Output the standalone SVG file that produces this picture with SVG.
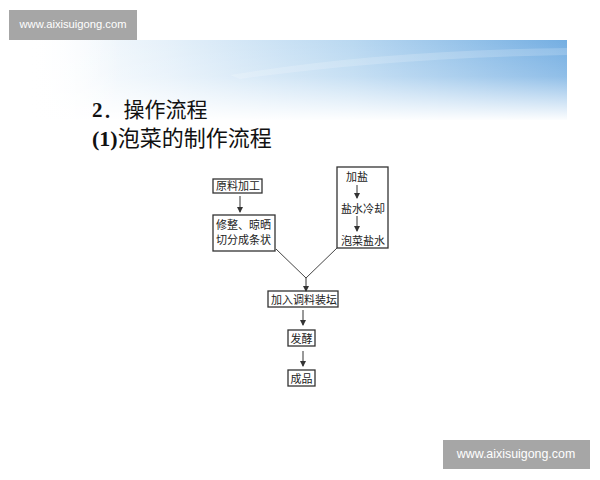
<svg xmlns="http://www.w3.org/2000/svg" width="600" height="480" viewBox="0 0 600 480">
<defs>
<linearGradient id="bh" x1="0" y1="0" x2="1" y2="0">
<stop offset="0" stop-color="#ffffff"/>
<stop offset="0.25" stop-color="#e6f1fa"/>
<stop offset="0.6" stop-color="#b9d8f1"/>
<stop offset="1" stop-color="#74aee2"/>
</linearGradient>
<linearGradient id="bv" x1="0" y1="0" x2="0" y2="1">
<stop offset="0" stop-color="#ffffff" stop-opacity="0"/>
<stop offset="0.45" stop-color="#ffffff" stop-opacity="0.2"/>
<stop offset="1" stop-color="#ffffff" stop-opacity="1"/>
</linearGradient>
<linearGradient id="bl" x1="0" y1="0" x2="1" y2="0">
<stop offset="0" stop-color="#ffffff" stop-opacity="1"/>
<stop offset="1" stop-color="#ffffff" stop-opacity="0"/>
</linearGradient>
<marker id="ah" viewBox="0 0 6 8" refX="5" refY="4" markerWidth="6" markerHeight="8" markerUnits="userSpaceOnUse" orient="auto">
<path d="M0,1 L6,4 L0,7 Z" fill="#333"/>
</marker>
<style>
.box{fill:#ffffff;stroke:#333;stroke-width:1.3}
.t{font-family:"Liberation Serif","Noto Sans CJK SC",serif;font-size:11px;fill:#222}
.ttl{font-family:"Liberation Serif","Noto Sans CJK SC",serif;fill:#111}
.wm{font-family:"Liberation Sans",Arial,sans-serif;fill:#ffffff}
.ln{stroke:#444;stroke-width:1;fill:none}
.ar{stroke:#333;stroke-width:1;fill:none;marker-end:url(#ah)}
</style>
</defs>
<rect width="600" height="480" fill="#ffffff"/>
<g id="banner">
<rect x="30" y="40" width="537" height="80" fill="url(#bh)"/>
<path d="M230,75 Q380,50 567,48 L567,55 Q390,58 240,79 Z" fill="#ffffff" opacity="0.18"/>
<rect x="30" y="40" width="537" height="81" fill="url(#bv)"/>
<rect x="30" y="40" width="90" height="81" fill="url(#bl)"/>
</g>
<g id="wm1">
<rect x="9" y="10" width="128" height="30" fill="#a6a6a6"/>
<text class="wm" x="73" y="28" font-size="11.2" text-anchor="middle">www.aixisuigong.com</text>
</g>
<g id="wm2">
<rect x="443" y="440" width="147" height="29" fill="#a6a6a6"/>
<text class="wm" x="516" y="458" font-size="12.4" text-anchor="middle">www.aixisuigong.com</text>
</g>
<g id="title">
<text class="ttl" x="92" y="117" font-size="21"><tspan font-weight="bold">2</tspan>．操作流程</text>
<text class="ttl" x="92" y="146" font-size="22"><tspan font-weight="bold">(1)</tspan>泡菜的制作流程</text>
</g>
<g id="n1">
<rect class="box" x="213" y="179" width="49" height="14"/>
<text class="t" x="216" y="190">原料加工</text>
</g>
<g id="n2">
<rect class="box" x="213" y="215" width="62" height="36"/>
<text class="t" x="216" y="229">修整、晾晒</text>
<text class="t" x="216" y="244">切分成条状</text>
</g>
<g id="n3">
<rect class="box" x="337" y="167" width="51" height="81"/>
<text class="t" x="346" y="181">加盐</text>
<text class="t" x="341" y="213">盐水冷却</text>
<text class="t" x="341" y="245">泡菜盐水</text>
</g>
<g id="n4">
<rect class="box" x="268" y="291" width="70" height="16"/>
<text class="t" x="271" y="303.5">加入调料装坛</text>
</g>
<g id="n5">
<rect class="box" x="288" y="330" width="27" height="16"/>
<text class="t" x="290.5" y="342.5">发酵</text>
</g>
<g id="n6">
<rect class="box" x="288" y="370" width="27" height="16"/>
<text class="t" x="290.5" y="382.5">成品</text>
</g>
<g id="connectors">
<line class="ar" x1="240" y1="196" x2="240" y2="212"/>
<line class="ar" x1="357" y1="185" x2="357" y2="198"/>
<line class="ar" x1="357" y1="216" x2="357" y2="231"/>
<polyline class="ln" points="276,249 306,278 337,248"/>
<line class="ar" x1="306" y1="278" x2="306" y2="291"/>
<line class="ar" x1="303" y1="310" x2="303" y2="325"/>
<line class="ar" x1="303" y1="351" x2="303" y2="366"/>
</g>
</svg>
